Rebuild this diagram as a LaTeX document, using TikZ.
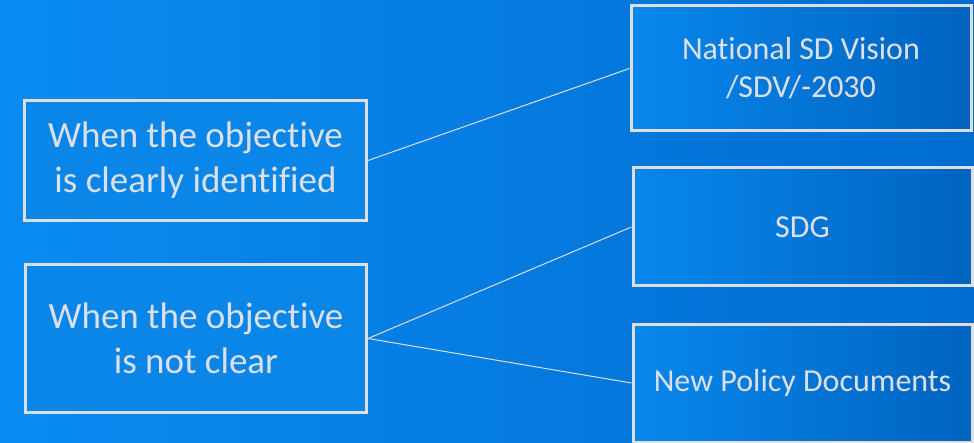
\documentclass[tikz,border=0pt]{standalone}
\usepackage{fontspec}
\setmainfont{Carlito}[Ligatures={NoCommon}]
\usetikzlibrary{positioning}
\tikzset{>=latex}
\definecolor{bgleft}{RGB}{10,140,242}
\definecolor{bgright}{RGB}{0,108,208}
\definecolor{boxline}{RGB}{222,222,222}
\definecolor{boxtext}{RGB}{220,224,230}
\tikzset{
  leftbox/.style={draw=boxline, line width=3pt, fill=bgleft!96!black, text=boxtext, align=center,
    minimum width=342pt, minimum height=120pt, font=\fontsize{37}{45}\selectfont},
  rightbox/.style={draw=boxline, line width=3pt, left color=bgleft!85!bgright, right color=bgright!92!black,
    text=boxtext, align=center, minimum width=340pt, minimum height=118pt, font=\fontsize{32}{38}\selectfont},
  link/.style={draw=boxline, line width=1pt}
}
\begin{document}
\begin{tikzpicture}[x=1pt,y=1pt]
      \useasboundingbox (0,0) rectangle (974,442);
      \clip (0,0) rectangle (974,442);
      \shade[left color=bgleft, right color=bgright] (0,0) rectangle (974,442);
      \node[leftbox] (n1) at (195.5,281.5) {When the objective\\is clearly identified};
      \node[leftbox, below of=n1, node distance=178pt, minimum height=147pt, minimum width=341pt, xshift=0.5pt] (n2) {When the objective\\is not clear};
      \node[rightbox, minimum height=125pt] (n3) at (801,373.5) {National SD Vision\\/SDV/-2030};
      \node[rightbox, below of=n3, node distance=158.5pt, xshift=1.5pt, minimum width=339pt] (n4) {SDG};
      \node[rightbox, below of=n4, node distance=156pt, minimum width=339pt] (n5) {New Policy Documents};
      \draw[link] (n1.east) to (n3.west);
      \draw[link] (n2.east) to (n4.west);
      \draw[link] (n2.east) to (n5.west);
    \end{tikzpicture}
\end{document}
